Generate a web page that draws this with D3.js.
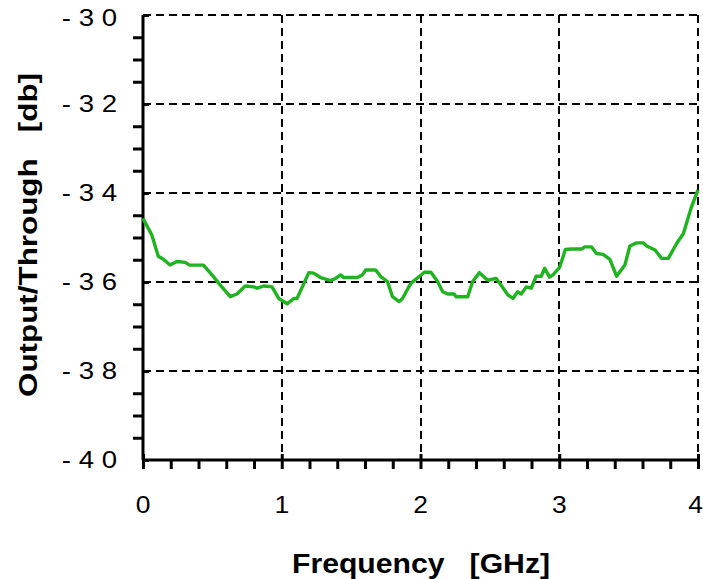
<!DOCTYPE html>
<html lang="en">
<head>
<meta charset="UTF-8">
<title>Output/Through vs Frequency</title>
<script src="https://cdn.jsdelivr.net/npm/d3@7/dist/d3.min.js"></script>
<style>
  body { margin: 0; background: #fff; }
  text { font-family: "Liberation Sans", Arial, sans-serif; fill: #000; white-space: pre; }
</style>
</head>
<body>
<div id="chart"></div>
<script>
// data
const freq = [0, 0.063, 0.11, 0.147, 0.195, 0.244, 0.304, 0.335, 0.436, 0.497, 0.557, 0.629, 0.677,
  0.737, 0.798, 0.822, 0.87, 0.93, 0.978, 1.039, 1.087, 1.11, 1.195, 1.23, 1.28, 1.352, 1.388, 1.424,
  1.448, 1.545, 1.581, 1.605, 1.677, 1.714, 1.762, 1.798, 1.846, 1.87, 1.93, 1.99, 2.027, 2.075,
  2.123, 2.16, 2.196, 2.243, 2.256, 2.34, 2.376, 2.424, 2.485, 2.545, 2.58, 2.63, 2.666, 2.70,
  2.726, 2.762, 2.798, 2.834, 2.87, 2.895, 2.93, 2.955, 3.003, 3.044, 3.087, 3.16, 3.184, 3.232,
  3.268, 3.316, 3.365, 3.413, 3.473, 3.509, 3.557, 3.605, 3.63, 3.69, 3.738, 3.786, 3.847, 3.895,
  3.95, 4.0];
const db = [-34.57, -34.94, -35.42, -35.49, -35.62, -35.54, -35.56, -35.62, -35.62, -35.84, -36.07,
  -36.33, -36.27, -36.09, -36.11, -36.14, -36.09, -36.11, -36.37, -36.49, -36.37, -36.37, -35.79,
  -35.80, -35.90, -35.97, -35.92, -35.84, -35.90, -35.90, -35.84, -35.73, -35.73, -35.88, -35.99,
  -36.33, -36.44, -36.37, -36.03, -35.88, -35.78, -35.78, -35.99, -36.22, -36.27, -36.27, -36.33,
  -36.33, -35.99, -35.79, -35.96, -35.92, -36.07, -36.29, -36.37, -36.22, -36.27, -36.11, -36.14,
  -35.87, -35.87, -35.69, -35.89, -35.84, -35.67, -35.27, -35.26, -35.26, -35.21, -35.21, -35.36,
  -35.38, -35.49, -35.87, -35.62, -35.19, -35.12, -35.12, -35.19, -35.28, -35.47, -35.47, -35.13,
  -34.91, -34.34, -33.93];

const xMajor = [0, 1, 2, 3, 4];
const xMinor = [0.2, 0.4, 0.6, 0.8, 1.2, 1.4, 1.6, 1.8, 2.2, 2.4, 2.6, 2.8, 3.2, 3.4, 3.6, 3.8];
const yMajor = [-30, -32, -34, -36, -38, -40];
const yMinor = [-30.5, -31, -31.5, -32.5, -33, -33.5, -34.5, -35, -35.5, -36.5, -37, -37.5, -38.5, -39, -39.5];
const yLabels = ["- 3 0", "- 3 2", "- 3 4", "- 3 6", "- 3 8", "- 4 0"];

const W = 703, H = 579;
const margin = { top: 15, right: 5, bottom: 119, left: 143 };
const width = W - margin.left - margin.right;
const height = H - margin.top - margin.bottom;

const svg = d3.select("#chart").append("svg")
  .attr("width", W)
  .attr("height", H);

const g = svg.append("g")
  .attr("transform", `translate(${margin.left},${margin.top})`);

const x = d3.scaleLinear().domain([0, 4]).range([0, width]);
const y = d3.scaleLinear().domain([-40, -30]).range([height, 0]);

// dashed grid
g.selectAll(".hgrid").data(yMajor.filter(d => d !== -40)).join("line")
  .attr("x1", 0).attr("x2", width)
  .attr("y1", d => y(d)).attr("y2", d => y(d))
  .attr("stroke", "#000").attr("stroke-width", 2).attr("stroke-dasharray", "8,5")
  .attr("shape-rendering", "crispEdges");
g.selectAll(".vgrid").data(xMajor.filter(d => d !== 0)).join("line")
  .attr("x1", d => x(d)).attr("x2", d => x(d))
  .attr("y1", 0).attr("y2", height)
  .attr("stroke", "#000").attr("stroke-width", 2).attr("stroke-dasharray", "8,5")
  .attr("shape-rendering", "crispEdges");

// y axis: minor ticks outside, major ticks crossing
const yAxisMinor = g.append("g").call(d3.axisLeft(y).tickValues(yMinor).tickSize(10).tickFormat(""));
const yAxisMajor = g.append("g").call(d3.axisLeft(y).tickValues(yMajor).tickSize(10).tickFormat(""));
yAxisMajor.selectAll(".tick line").attr("x2", 6);

// x axis
const xAxisMinor = g.append("g").attr("transform", `translate(0,${height})`)
  .call(d3.axisBottom(x).tickValues(xMinor).tickSize(9).tickFormat(""));
const xAxisMajor = g.append("g").attr("transform", `translate(0,${height})`)
  .call(d3.axisBottom(x).tickValues(xMajor).tickSize(9).tickFormat(""));
xAxisMajor.selectAll(".tick line").attr("y1", -6);

g.selectAll(".domain").attr("stroke", "#000").attr("stroke-width", 3);
g.selectAll(".tick line").attr("stroke", "#000").attr("stroke-width", 3);
// plain axis lines without end caps
yAxisMinor.select(".domain").attr("d", `M0,${y(-30)}V${y(-40)}`);
yAxisMajor.select(".domain").remove();
xAxisMinor.select(".domain").attr("d", `M0,0H${width}`);
xAxisMajor.select(".domain").remove();

// tick labels (stretched horizontally like the original)
g.selectAll(".ylab").data(yMajor).join("text")
  .attr("text-anchor", "end")
  .attr("dominant-baseline", "central")
  .attr("font-size", 23)
  .attr("transform", d => `translate(-26,${y(d) + (d === -30 ? 3 : 0)}) scale(1.2,1)`)
  .text((d, i) => yLabels[i]);

g.selectAll(".xlab").data(xMajor).join("text")
  .attr("text-anchor", d => d === 4 ? "end" : "middle")
  .attr("font-size", 23)
  .attr("transform", d => `translate(${d === 4 ? width + 5 : x(d)},${height + 53}) scale(1.15,1)`)
  .text(d => d);

// data line
const line = d3.line().x((d, i) => x(freq[i])).y(d => y(d));
g.append("path")
  .datum(db)
  .attr("fill", "none")
  .attr("stroke", "#1fb31f")
  .attr("stroke-width", 3.4)
  .attr("stroke-linejoin", "round")
  .attr("d", line);

// axis titles
svg.append("text")
  .attr("x", 421).attr("y", 573)
  .attr("text-anchor", "middle")
  .attr("font-size", 27).attr("font-weight", "bold")
  .attr("textLength", 258).attr("lengthAdjust", "spacingAndGlyphs")
  .text("Frequency   [GHz]");

svg.append("text")
  .attr("transform", "translate(37,235) rotate(-90)")
  .attr("text-anchor", "middle")
  .attr("font-size", 26).attr("font-weight", "bold")
  .attr("textLength", 324).attr("lengthAdjust", "spacingAndGlyphs")
  .text("Output/Through   [db]");
</script>
</body>
</html>
